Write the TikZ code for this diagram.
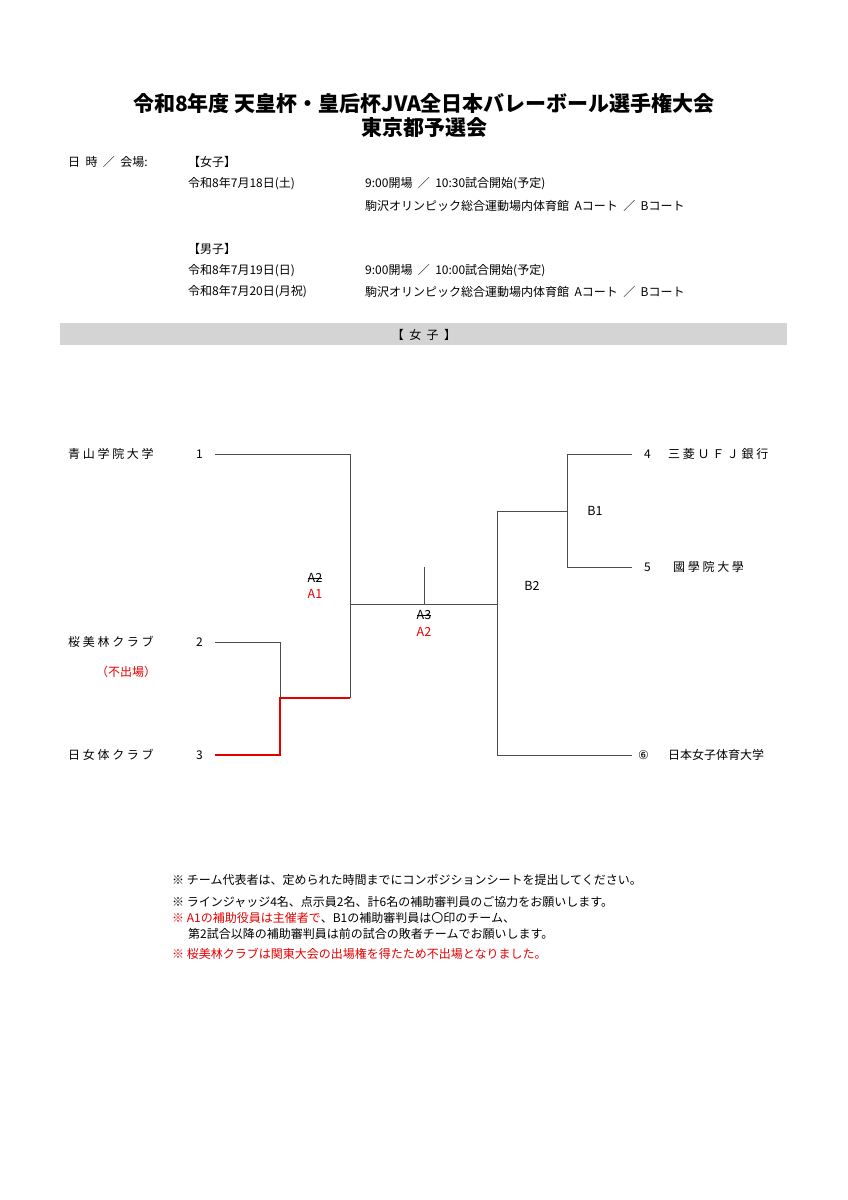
\documentclass[tikz,border=0pt]{standalone}
\usepackage{fontspec}
\setmainfont{Noto Sans CJK JP}
\newfontfamily\sym{DejaVu Sans}
\begin{document}
\begin{tikzpicture}[x=1pt,y=-1pt,
  br/.style={draw=black!70,line width=0.9pt},
  win/.style={draw=red!90!black,line width=2pt},
  t/.style={anchor=west,inner sep=0pt,font=\fontsize{12}{14}\selectfont},
  lab/.style={inner sep=0pt,font=\fontsize{12.5}{14}\selectfont},
  red/.style={text=red!90!black}]
\useasboundingbox (0,0) rectangle (848,1200);
\node[font=\fontsize{21}{24}\bfseries\selectfont,align=center] (title) at (424,115) {令和8年度 天皇杯・皇后杯JVA全日本バレーボール選手権大会\\東京都予選会};
\node[t] (h0) at (68,162) {日\ \ 時\ \ ／\ \ 会場:};
\node[t] (h1) at (188,162) {【女子】};
\node[t] (h2) at (188,184) {令和8年7月18日(土)};
\node[t] (h3) at (365,184) {9:00開場\ \ ／\ \ 10:30試合開始(予定)};
\node[t] (h4) at (365,206) {駒沢オリンピック総合運動場内体育館\ \ Aコート\ \ ／\ \ Bコート};
\node[t] (h5) at (188,249) {【男子】};
\node[t] (h6) at (188,271) {令和8年7月19日(日)};
\node[t] (h7) at (365,271) {9:00開場\ \ ／\ \ 10:00試合開始(予定)};
\node[t] (h8) at (188,292) {令和8年7月20日(月祝)};
\node[t] (h9) at (365,292) {駒沢オリンピック総合運動場内体育館\ \ Aコート\ \ ／\ \ Bコート};
\fill[black!17] (60,323) rectangle (787,345);
\node[t,anchor=center] (bar) at (424,335) {【\ \ 女\ \ 子\ \ 】};
% teams
\node[t] (n1) at (68,454) {青 山 学 院 大 学};
\node[t] (s1) at (196,454) {1};
\node[t] (n2) at (68,642) {桜 美 林 ク ラ ブ};
\node[t] (s2) at (196,642) {2};
\node[t,red] (ns) at (96,672) {（不出場）};
\node[t] (n3) at (68,755) {日 女 体 ク ラ ブ};
\node[t] (s3) at (196,755) {3};
\node[t] (s4) at (644,454) {4};
\node[t] (n4) at (668,454) {三 菱 Ｕ Ｆ Ｊ 銀 行};
\node[t] (s5) at (644,567) {5};
\node[t] (n5) at (673,567) {國 學 院 大 學};
\node[t] (s6) at (638,755) {\sym ⑥};
\node[t] (n6) at (668,755) {日本女子体育大学};
% bracket
\coordinate (p1) at (215,454);
\coordinate (p2) at (215,642);
\coordinate (p3) at (215,755);
\draw[br] (p1) -| (350,698);
\draw[br] (p2) -| (280,698);
\draw[br] (350,604) -- (497,604);
\draw[br] (424,567) -- (424,604);
\draw[win] (p3) -| (280,698) -- (350,698);
\coordinate (p4) at (632,454);
\coordinate (p5) at (632,567);
\coordinate (p6) at (632,755);
\draw[br] (p4) -| (567,567) -- (p5);
\draw[br] (567,511) -| (497,755) -- (p6);
\node[lab] (a2o) at (315,578) {A2};
\draw[line width=0.6pt] (a2o.west) -- (a2o.east);
\node[lab,red] (a1) at (315,594) {A1};
\node[lab] (a3o) at (424,615) {A3};
\draw[line width=0.6pt] (a3o.west) -- (a3o.east);
\node[lab,red] (a2) at (424,632) {A2};
\node[lab] (b1) at (595,511) {B1};
\node[lab] (b2) at (532,586) {B2};
% notes
\node[t] (c1) at (172,880) {※ チーム代表者は、定められた時間までにコンポジションシートを提出してください。};
\node[t] (c2) at (172,902) {※ ラインジャッジ4名、点示員2名、計6名の補助審判員のご協力をお願いします。};
\node[t] (c3) at (172,918) {\textcolor{red!90!black}{※ A1の補助役員は主催者で}、B1の補助審判員は〇印のチーム、};
\node[t] (c4) at (188,934) {第2試合以降の補助審判員は前の試合の敗者チームでお願いします。};
\node[t,red] (c5) at (172,954) {※ 桜美林クラブは関東大会の出場権を得たため不出場となりました。};
\end{tikzpicture}
\end{document}
